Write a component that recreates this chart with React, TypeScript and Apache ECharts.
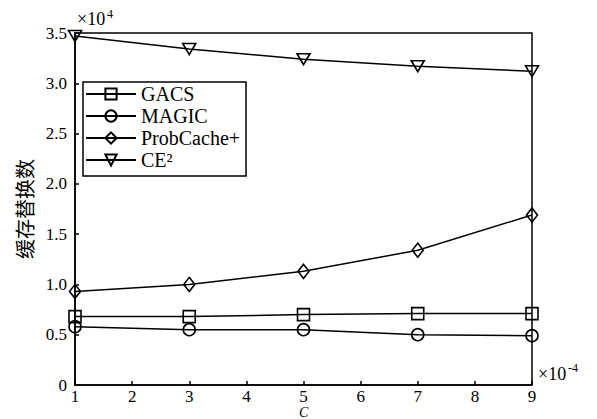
import React, { useEffect, useRef } from "react";
import * as echarts from "echarts";

const xValues = [1, 3, 5, 7, 9];
const gacs = [0.68, 0.68, 0.7, 0.71, 0.71];
const magic = [0.58, 0.55, 0.55, 0.5, 0.49];
const probCache = [0.93, 1.0, 1.13, 1.34, 1.69];
const ce2 = [3.47, 3.34, 3.24, 3.17, 3.12];
const seriesNames = ["GACS", "MAGIC", "ProbCache+", "CE²"];
const yAxisName = "缓存替换数";
const xAxisName = "C";

const SERIF = "Liberation Serif";

const downTri = "path://M0,0 L12,0 L6,10 Z";
const diamond = "path://M5,0 L10,6.5 L5,13 L0,6.5 Z";

function pairs(ys: number[]) {
  return xValues.map((x, i) => [x, ys[i]]);
}

export default function App() {
  const ref = useRef<HTMLDivElement>(null);
  useEffect(() => {
    const chart = echarts.init(ref.current!, null, { renderer: "svg" });
    const mk = (name: string, data: number[], symbol: string, size: any) => ({
      name,
      type: "line",
      data: pairs(data),
      symbol,
      symbolSize: size,
      showSymbol: true,
      clip: false,
      lineStyle: { color: "#000", width: 1.5 },
      itemStyle: { color: "rgba(255,255,255,0)", borderColor: "#000", borderWidth: 1.6 },
      emphasis: { disabled: true },
      z: 3,
    });
    chart.setOption({
      animation: false,
      backgroundColor: "#fff",
      grid: {
        left: 75,
        top: 33,
        width: 457,
        height: 352,
        outerBoundsMode: "none",
        containLabel: false,
        show: true,
        borderColor: "#000",
        borderWidth: 1.5,
        backgroundColor: "transparent",
      },
      legend: {
        orient: "vertical",
        left: 83,
        top: 82,
        padding: [2, 6, 6, 2],
        itemWidth: 50,
        itemHeight: 14,
        itemGap: 2,
        borderColor: "#000",
        borderWidth: 1.5,
        backgroundColor: "#fff",
        textStyle: { fontFamily: SERIF, fontSize: 20, color: "#000" },
        data: seriesNames,
      },
      xAxis: {
        type: "value",
        min: 1,
        max: 9,
        interval: 1,
        axisLine: { show: true, lineStyle: { color: "#000", width: 1.5 } },
        axisTick: { show: true, inside: true, length: 4, lineStyle: { color: "#000", width: 1.5 } },
        axisLabel: { fontFamily: SERIF, fontSize: 17, color: "#000", margin: 3 },
        splitLine: { show: false },
      },
      yAxis: {
        type: "value",
        min: 0,
        max: 3.5,
        interval: 0.5,
        name: yAxisName,
        nameLocation: "middle",
        nameGap: 38,
        nameRotate: 90,
        nameTextStyle: { fontFamily: "Noto Sans CJK SC", fontSize: 20, color: "#000" },
        axisLine: { show: true, lineStyle: { color: "#000", width: 1.5 } },
        axisTick: { show: true, inside: true, length: 4, lineStyle: { color: "#000", width: 1.5 } },
        axisLabel: {
          fontFamily: SERIF,
          fontSize: 17,
          color: "#000",
          margin: 8,
          formatter: (v: number) => (v === 0 ? "0" : v.toFixed(1)),
        },
        splitLine: { show: false },
      },
      graphic: [
        { type: "text", left: 77, top: 10, style: { text: "×10", fontFamily: SERIF, fontSize: 18, fill: "#000" } },
        { type: "text", left: 107, top: 8, style: { text: "4", fontFamily: SERIF, fontSize: 12, fill: "#000" } },
        { type: "text", left: 538, top: 365, style: { text: "×10", fontFamily: SERIF, fontSize: 18, fill: "#000" } },
        { type: "text", left: 568, top: 362, style: { text: "-4", fontFamily: SERIF, fontSize: 12, fill: "#000" } },
        {
          type: "text",
          left: 299,
          top: 405,
          style: {
            text: xAxisName,
            fontFamily: SERIF,
            fontSize: 14,
            fontStyle: "italic",
            fill: "#000",
          },
        },
      ],
      series: [
        mk(seriesNames[0], gacs, "rect", 12),
        mk(seriesNames[1], magic, "circle", 12),
        mk(seriesNames[2], probCache, diamond, [11, 14]),
        mk(seriesNames[3], ce2, downTri, [13, 11]),
      ],
    });
    return () => chart.dispose();
  }, []);
  return (
    <div
      ref={ref}
      style={{ position: "fixed", left: 0, top: 0, width: 597, height: 419, background: "#fff" }}
    />
  );
}
